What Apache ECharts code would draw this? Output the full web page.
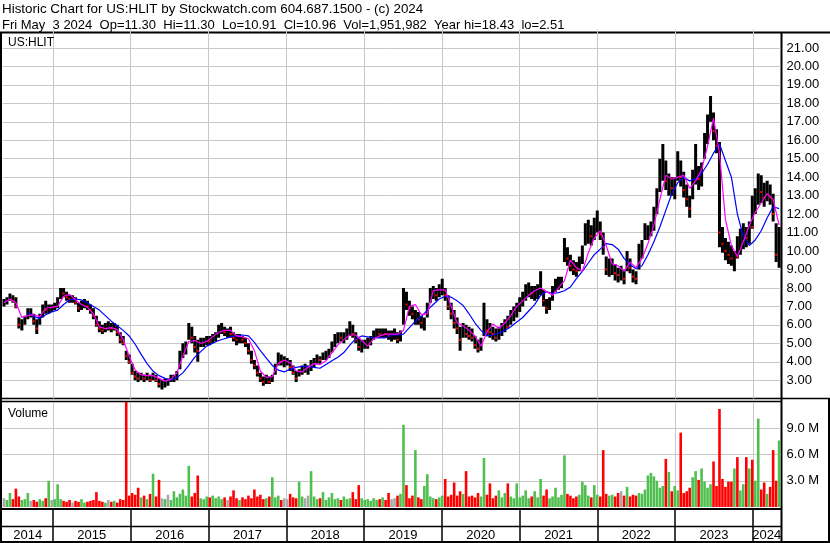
<!DOCTYPE html>
<html><head><meta charset="utf-8">
<script src="https://cdn.jsdelivr.net/npm/echarts@6/dist/echarts.min.js"></script>
<style>html,body{margin:0;padding:0;background:#fff}#c{width:830px;height:543px}</style>
</head><body><div id="c"></div>
<script>
// ---- DATA ----
const title1 = 'Historic Chart for US:HLIT by Stockwatch.com 604.687.1500 - (c) 2024';
const title2 = 'Fri May  3 2024  Op=11.30  Hi=11.30  Lo=10.91  Cl=10.96  Vol=1,951,982  Year hi=18.43  lo=2.51';
const symbolLabel = 'US:HLIT';
const volumeLabel = 'Volume';
const firstBarDate = [2014, 4, 16];   // one bar every 14 days
const barStepDays = 14;
const maStepDays = 28;                // moving averages sampled every 28 days
const axisStart = [2014, 4, 10];
const axisEnd = [2024, 4, 10];
const yearLabels = ['2014','2015','2016','2017','2018','2019','2020','2021','2022','2023','2024'];

const hi = [
7.4,7.5,7.7,7.6,7.5,6.4,6.3,6.5,6.9,6.9,
6.6,6.3,6.6,7.1,7.3,7.1,7.1,7.2,7.5,8.0,
8.0,7.8,7.6,7.6,7.5,7.2,7.3,7.4,7.3,7.1,
6.9,6.5,6.2,6.0,6.1,6.2,6.1,6.1,6.0,5.6,
5.4,4.6,4.4,3.9,3.5,3.4,3.4,3.3,3.4,3.3,
3.4,3.3,3.1,3.0,3.1,3.1,3.3,3.3,3.5,4.6,
5.0,5.1,6.1,5.9,5.4,5.2,5.3,5.3,5.4,5.4,
5.5,5.6,6.0,6.1,5.9,5.8,5.9,5.6,5.5,5.5,
5.4,5.3,5.0,4.6,4.1,3.8,3.4,3.2,3.3,3.2,
3.3,3.9,4.5,4.4,4.3,4.2,4.1,3.8,3.5,3.6,
3.8,3.9,3.8,4.1,4.2,4.4,4.3,4.5,4.6,4.7,
5.1,5.5,5.6,5.6,5.6,5.8,6.2,6.0,5.6,5.3,
5.2,5.2,5.3,5.4,5.7,5.8,5.8,5.8,5.8,5.7,
5.7,5.8,5.6,5.7,8.0,7.8,7.3,7.0,6.8,6.7,
6.5,6.4,7.2,8.0,8.1,8.0,8.2,8.5,8.0,7.6,
7.2,6.8,6.4,5.9,6.1,6.0,5.9,5.8,5.4,5.2,
5.3,7.2,6.3,6.1,5.9,5.8,5.9,6.1,6.3,6.5,
6.8,7.0,7.2,7.5,7.8,8.2,8.3,8.1,8.1,8.2,
8.9,7.9,7.4,7.5,8.1,8.5,8.6,8.6,10.7,10.2,
9.8,9.5,9.4,9.7,10.3,11.5,11.7,11.4,11.8,12.2,
11.6,11.0,9.7,9.6,9.6,9.3,9.1,9.2,9.0,10.0,
9.6,9.0,8.9,10.4,10.6,11.5,11.4,11.6,12.4,13.4,
15.0,15.8,14.9,14.2,14.0,14.0,15.4,14.9,14.3,13.6,
13.0,14.4,15.8,14.6,14.8,16.4,17.4,18.4,17.5,16.6,
15.9,11.3,10.7,10.5,10.3,10.0,10.8,11.2,11.5,11.3,
11.6,13.0,13.4,14.2,14.1,13.7,13.8,13.6,13.1,11.5,11.3
];
const lo = [
7.0,7.1,7.3,7.2,6.9,5.8,5.7,6.0,6.3,6.4,
6.0,5.5,6.0,6.4,6.6,6.6,6.7,6.8,6.9,7.4,
7.5,7.3,7.2,7.2,7.1,6.7,6.8,6.9,6.8,6.6,
6.3,5.9,5.6,5.5,5.6,5.7,5.6,5.7,5.4,5.0,
4.9,4.1,3.9,3.3,3.0,2.9,3.0,2.9,3.0,2.9,
3.0,2.9,2.6,2.5,2.6,2.7,2.9,2.9,3.0,3.6,
4.2,4.4,5.2,5.0,4.5,4.0,4.8,4.8,4.9,4.9,
5.0,5.1,5.3,5.5,5.4,5.3,5.3,5.1,4.9,5.0,
5.0,4.8,4.4,3.9,3.6,3.2,2.9,2.7,2.8,2.8,
2.9,3.3,3.8,3.8,3.7,3.8,3.5,3.3,2.9,3.2,
3.3,3.4,3.3,3.5,3.7,3.9,3.9,4.1,4.1,4.2,
4.5,4.8,5.0,5.1,5.0,5.2,5.4,5.3,5.0,4.6,
4.5,4.7,4.7,4.9,5.2,5.3,5.3,5.3,5.3,5.2,
5.1,5.2,5.0,5.1,6.0,6.8,6.5,6.3,6.0,6.0,
5.8,5.7,6.4,7.2,7.4,7.3,7.5,7.6,7.3,6.8,
6.3,5.8,5.5,4.6,5.3,5.3,5.2,5.1,4.7,4.5,
4.6,5.4,5.4,5.3,5.2,5.1,5.2,5.4,5.6,5.8,
6.0,6.2,6.4,6.7,7.0,7.3,7.5,7.4,7.3,7.4,
7.6,7.0,6.6,6.8,7.3,7.8,7.9,8.0,9.4,9.2,
8.9,8.7,8.6,8.9,9.3,10.3,10.4,10.3,10.6,11.0,
10.6,9.8,8.7,8.6,8.7,8.4,8.3,8.4,8.2,8.9,
8.8,8.3,8.2,9.0,9.6,10.6,10.6,10.8,11.1,12.0,
13.2,13.8,13.3,13.0,13.0,12.8,13.8,13.5,12.9,12.4,
11.8,12.8,13.6,13.3,13.5,15.0,15.8,17.0,16.0,15.3,
10.2,9.9,9.5,9.3,9.2,8.9,9.6,9.8,10.1,10.2,
10.4,11.2,12.0,12.5,12.6,12.4,12.7,12.5,11.6,9.4,9.1
];
const cl = [
7.2,7.4,7.5,7.3,7.0,6.0,6.1,6.3,6.6,6.6,
6.2,5.8,6.4,6.9,6.8,6.9,6.9,7.0,7.3,7.8,
7.7,7.5,7.4,7.4,7.2,6.9,7.0,7.2,7.0,6.8,
6.5,6.0,5.8,5.7,5.9,5.9,5.8,5.9,5.6,5.2,
5.0,4.3,4.0,3.4,3.2,3.1,3.2,3.1,3.2,3.0,
3.2,3.0,2.8,2.8,2.9,2.9,3.1,3.2,3.4,4.3,
4.6,4.8,5.6,5.3,4.8,4.6,5.0,5.1,5.2,5.1,
5.3,5.4,5.7,5.8,5.6,5.6,5.5,5.3,5.2,5.3,
5.2,5.0,4.6,4.1,3.8,3.4,3.1,2.9,3.0,2.9,
3.1,3.7,4.2,4.0,4.0,4.0,3.7,3.4,3.1,3.4,
3.6,3.6,3.6,3.9,4.0,4.2,4.1,4.3,4.4,4.5,
4.9,5.3,5.4,5.3,5.4,5.6,5.8,5.5,5.2,4.8,
4.9,5.0,5.1,5.2,5.5,5.6,5.5,5.6,5.5,5.4,
5.4,5.4,5.2,5.5,7.6,7.1,6.9,6.6,6.7,6.3,
6.1,6.3,6.9,7.6,7.7,7.6,7.9,8.0,7.6,7.0,
6.6,6.1,5.8,5.2,5.7,5.5,5.4,5.3,4.9,4.7,
5.0,6.0,5.7,5.6,5.5,5.3,5.6,5.8,6.0,5.9,
6.4,6.6,6.9,7.2,7.5,7.8,7.9,7.7,7.8,7.9,
8.0,7.3,6.9,7.1,7.8,8.2,8.3,8.4,10.0,9.6,
9.2,9.0,8.9,9.2,9.7,11.0,11.2,10.8,11.4,11.5,
10.9,10.2,9.0,9.1,9.2,8.8,8.7,8.7,8.5,9.5,
9.1,8.6,8.5,9.8,10.2,11.0,11.1,11.2,11.8,12.8,
14.3,14.5,13.8,14.0,13.4,13.6,14.6,14.0,13.3,12.8,
12.3,13.9,14.8,13.9,14.2,15.8,16.8,17.6,16.5,15.7,
11.0,10.4,10.0,9.8,9.6,9.9,9.7,10.6,10.8,10.7,
11.5,11.3,12.7,13.5,13.2,12.9,13.3,12.9,12.0,9.8,10.96
];
// volume in millions of shares
const vol = [
1.0,0.8,1.6,0.9,2.1,1.2,0.8,0.9,1.6,0.7,
0.8,0.6,0.9,0.7,1.0,3.0,0.8,0.9,2.6,0.9,
0.7,0.6,0.8,0.5,0.7,0.6,0.9,0.5,0.6,0.7,
0.8,1.7,0.7,0.6,0.5,0.8,0.6,0.7,0.5,0.9,
0.8,12.3,1.3,1.6,1.4,2.2,1.1,1.3,0.9,1.5,
3.8,1.2,3.1,1.0,0.9,1.4,0.8,1.8,1.1,1.5,
2.0,1.3,4.7,1.2,1.6,3.6,1.0,0.9,1.2,1.1,
1.3,1.0,1.2,0.9,1.1,0.8,1.2,1.9,1.0,0.8,
1.1,0.9,1.3,1.0,2.0,1.2,1.4,0.9,1.0,1.2,
3.4,1.1,1.3,0.8,1.0,0.9,1.5,1.1,1.0,2.9,
1.2,1.0,1.3,4.1,1.2,0.9,1.0,1.7,0.8,1.1,
1.6,0.9,1.0,0.8,1.2,0.9,1.0,1.7,0.9,2.5,
1.0,0.8,0.9,0.7,1.0,0.8,0.9,1.1,0.8,1.6,
0.9,1.0,1.3,1.5,9.4,2.5,1.0,1.3,6.5,1.1,
0.9,2.4,3.75,1.2,1.0,0.9,1.1,1.3,3.2,1.2,
1.4,2.8,1.3,1.8,1.5,4.1,1.2,1.3,1.1,1.6,
1.2,5.6,1.4,2.7,1.0,1.3,1.9,1.1,1.6,2.7,
1.2,1.0,2.7,1.1,1.3,1.9,1.0,1.2,1.8,1.1,
3.2,1.3,2.0,1.0,1.2,2.2,1.1,1.4,5.9,1.5,
1.3,1.0,1.2,1.4,2.9,2.5,1.3,1.1,2.5,1.4,
1.2,6.5,1.5,1.3,1.4,1.2,1.6,1.8,1.3,2.3,
1.2,1.4,1.3,1.6,1.5,2.0,3.6,3.9,3.5,3.0,
2.2,2.4,5.5,4.0,1.8,2.4,1.9,8.5,1.6,1.8,
2.2,3.4,4.1,3.1,4.4,2.9,2.2,2.6,5.2,2.4,
11.2,3.2,2.3,2.9,2.9,4.4,5.7,1.9,2.6,5.7,
4.4,5.4,3.0,10.1,2.0,2.8,1.5,2.3,6.5,3.0,7.6
];
const maFast = [
7.2,7.4,7.2,6.4,6.5,6.55,6.45,6.9,6.95,7.0,
7.55,7.65,7.35,7.1,6.95,6.6,5.9,5.8,5.85,5.75,
5.2,4.3,3.55,3.3,3.25,3.25,3.1,2.95,3.05,3.4,
4.3,5.1,5.15,5.0,5.1,5.35,5.6,5.7,5.7,5.4,
5.35,5.25,4.6,3.5,3.15,3.2,3.9,4.1,3.95,3.5,
3.45,3.7,3.9,3.85,4.05,4.5,4.9,5.2,5.45,5.45,
5.15,4.85,5.25,5.4,5.5,5.5,5.5,5.7,7.0,7.1,
6.55,6.6,7.85,7.9,7.9,7.0,6.1,5.95,5.7,5.4,
4.85,5.6,6.05,5.8,6.1,6.5,7.0,7.3,7.6,7.85,
8.0,7.8,7.6,8.0,8.4,9.5,9.1,8.9,9.9,10.7,
11.1,10.3,9.3,9.2,8.9,9.4,9.1,9.6,10.4,11.4,
12.8,14.1,13.9,14.0,14.1,13.4,13.8,14.4,15.7,17.2,
15.3,11.7,10.3,9.7,10.5,11.4,12.1,12.6,13.1,12.8,11.4
];
const maSlow = [
null,null,null,null,6.7,6.45,6.35,6.55,6.7,6.8,
7.1,7.35,7.4,7.35,7.2,7.0,6.8,6.5,6.2,5.95,
5.7,5.4,4.95,4.4,3.9,3.5,3.25,3.1,3.0,3.15,
3.4,3.8,4.25,4.55,4.85,5.0,5.15,5.25,5.35,5.4,
5.45,5.4,5.05,4.6,4.2,3.8,3.55,3.45,3.6,3.7,
3.75,3.75,3.7,3.65,3.85,4.05,4.25,4.5,4.9,5.25,
5.4,5.35,5.3,5.3,5.3,5.45,5.45,5.5,5.85,6.2,
6.45,6.8,7.1,7.4,7.55,7.5,7.3,7.05,6.6,6.1,
5.7,5.4,5.45,5.55,5.7,5.9,6.15,6.4,6.75,7.1,
7.6,7.8,7.7,7.75,7.85,8.05,8.5,8.9,9.35,9.8,
10.1,10.4,10.35,10.1,9.6,9.25,9.05,9.2,9.8,10.5,
11.3,12.2,13.1,13.7,14.0,13.8,13.9,14.2,14.7,15.3,
15.8,14.9,14.0,12.0,10.8,10.3,10.6,11.1,11.8,12.4,12.3
];
const priceTickStep = 1;
const volumeTickStep = 3;

// ---- BUILD ----
const DAY = 86400000;
const t0 = Date.UTC(firstBarDate[0], firstBarDate[1], firstBarDate[2]);
const xMin = Date.UTC(axisStart[0], axisStart[1], axisStart[2]);
const xMax = Date.UTC(axisEnd[0], axisEnd[1], axisEnd[2]);
const barDates = hi.map((_, i) => t0 + i * barStepDays * DAY);
const maDates = maFast.map((_, k) => t0 + k * maStepDays * DAY);
const yearStarts = yearLabels.slice(1).map(y => Date.UTC(+y, 0, 1));
const yearMids = yearLabels.map(y => {
  const a = Math.max(Date.UTC(+y, 0, 1), xMin);
  const b = Math.min(Date.UTC(+y + 1, 0, 1), xMax);
  return (a + b) / 2;
});
function dir(i) { if (i === 0) return 0; return cl[i] > cl[i-1] ? 1 : (cl[i] < cl[i-1] ? -1 : 0); }

const GL = 2.7, GR = 49.4;
const FONT = 'Liberation Sans, Arial, sans-serif';

const chart = echarts.init(document.getElementById('c'), null, {renderer: 'canvas'});
const xAxes = [0,1,2,3].map(g => ({
  type: 'value', gridIndex: g, min: xMin, max: xMax, scale: true,
  axisLine: {show: false},
  axisTick: {show: false, customValues: yearStarts},
  axisLabel: g === 3 ? {
      show: true, customValues: yearMids, margin: 2, hideOverlap: false,
      showMinLabel: true, showMaxLabel: true,
      formatter: v => String(new Date(v).getUTCFullYear()),
      fontFamily: FONT, fontSize: 13, color: '#000'
    } : {show: false},
  splitLine: {show: g !== 3, lineStyle: {color: g < 2 ? '#c8c8c8' : '#000', width: g < 2 ? 1 : 1.5}}
}));

const option = {
  animation: false,
  backgroundColor: '#fff',
  title: [
    {text: title1, left: 2, top: 1, padding: 0,
     textStyle: {fontFamily: FONT, fontSize: 13.4, fontWeight: 'normal', color: '#000', lineHeight: 16}},
    {text: title2, left: 2, top: 17, padding: 0,
     textStyle: {fontFamily: FONT, fontSize: 13, fontWeight: 'normal', color: '#000', lineHeight: 16}},
    {text: symbolLabel, left: 8, top: 37, padding: 0,
     textStyle: {fontFamily: FONT, fontSize: 12, fontWeight: 'normal', color: '#000'}},
    {text: volumeLabel, left: 8, top: 408, padding: 0,
     textStyle: {fontFamily: FONT, fontSize: 12, fontWeight: 'normal', color: '#000'}}
  ],
  grid: [
    {left: GL, right: GR, top: 29.5, height: 369.2},
    {left: GL, right: GR, top: 402, height: 105},
    {left: GL, right: GR, top: 509, height: 33},
    {left: GL, right: GR, top: 526, height: 1}
  ],
  xAxis: xAxes,
  yAxis: [
    {type: 'value', gridIndex: 0, position: 'right', min: 2, max: 22, interval: priceTickStep,
     axisLine: {show: false}, axisTick: {show: false},
     axisLabel: {showMinLabel: false, showMaxLabel: false, margin: 6, formatter: v => v.toFixed(2),
                 fontFamily: FONT, fontSize: 13, color: '#000'},
     splitLine: {show: true, showMinLine: false, showMaxLine: false, lineStyle: {color: '#c8c8c8', width: 1}}},
    {type: 'value', gridIndex: 1, position: 'right', min: 0, max: 12, interval: volumeTickStep,
     axisLine: {show: false}, axisTick: {show: false},
     axisLabel: {showMinLabel: false, showMaxLabel: false, margin: 6, formatter: v => v.toFixed(1) + ' M',
                 fontFamily: FONT, fontSize: 13, color: '#000'},
     splitLine: {show: true, showMinLine: false, showMaxLine: false, lineStyle: {color: '#c8c8c8', width: 1}}},
    {type: 'value', gridIndex: 2, show: false},
    {type: 'value', gridIndex: 3, show: false}
  ],
  series: [
    {
      type: 'custom', xAxisIndex: 0, yAxisIndex: 0, clip: true,
      data: barDates.map((d, i) => [d, lo[i], hi[i], cl[i], dir(i)]),
      encode: {x: 0, y: [1, 2]},
      renderItem: (params, api) => {
        const x = api.value(0);
        const a = api.coord([x, api.value(1)]);
        const b = api.coord([x, api.value(2)]);
        const c = api.coord([x, api.value(3)]);
        const kids = [{type: 'rect', shape: {x: a[0] - 1.5, y: b[1], width: 3, height: a[1] - b[1]},
                       style: {fill: '#000'}}];
        if (api.value(4) < 0) kids.push({type: 'rect', shape: {x: c[0] - 1, y: c[1] - 1, width: 2, height: 2},
                                         style: {fill: '#ff0000'}});
        return {type: 'group', children: kids};
      },
      z: 2
    },
    {type: 'line', xAxisIndex: 0, yAxisIndex: 0, data: maDates.map((d, k) => [d, maSlow[k]]),
     showSymbol: false, connectNulls: false, lineStyle: {color: '#0000ff', width: 1.2}, z: 3},
    {type: 'line', xAxisIndex: 0, yAxisIndex: 0, data: maDates.map((d, k) => [d, maFast[k]]),
     showSymbol: false, lineStyle: {color: '#ff00ff', width: 1.2}, z: 4},
    {type: 'bar', xAxisIndex: 1, yAxisIndex: 1, barWidth: 2.6, clip: true,
     data: barDates.map((d, i) => [d, vol[i]]),
     itemStyle: {color: p => { const s = dir(p.dataIndex); return s > 0 ? '#4fbf4f' : (s < 0 ? '#ff0000' : '#a8a8a8'); }}}
  ],
  graphic: [
    {type: 'line', shape: {x1: 0, y1: 32.5, x2: 830, y2: 32.5}, style: {stroke: '#000', lineWidth: 2}},
    {type: 'line', shape: {x1: 1, y1: 32, x2: 1, y2: 543}, style: {stroke: '#000', lineWidth: 2}},
    {type: 'line', shape: {x1: 781.5, y1: 32, x2: 781.5, y2: 543}, style: {stroke: '#000', lineWidth: 2}},
    {type: 'line', shape: {x1: 829, y1: 398, x2: 829, y2: 543}, style: {stroke: '#000', lineWidth: 2}},
    {type: 'line', shape: {x1: 0, y1: 398.5, x2: 830, y2: 398.5}, style: {stroke: '#000', lineWidth: 1.5}},
    {type: 'line', shape: {x1: 0, y1: 401.5, x2: 782, y2: 401.5}, style: {stroke: '#000', lineWidth: 1.5}},
    {type: 'line', shape: {x1: 0, y1: 509, x2: 782, y2: 509}, style: {stroke: '#000', lineWidth: 2}},
    {type: 'line', shape: {x1: 0, y1: 526.5, x2: 782, y2: 526.5}, style: {stroke: '#000', lineWidth: 1.5}},
    {type: 'line', shape: {x1: 0, y1: 542, x2: 830, y2: 542}, style: {stroke: '#000', lineWidth: 2}}
  ]
};
chart.setOption(option);
</script>
</body></html>
